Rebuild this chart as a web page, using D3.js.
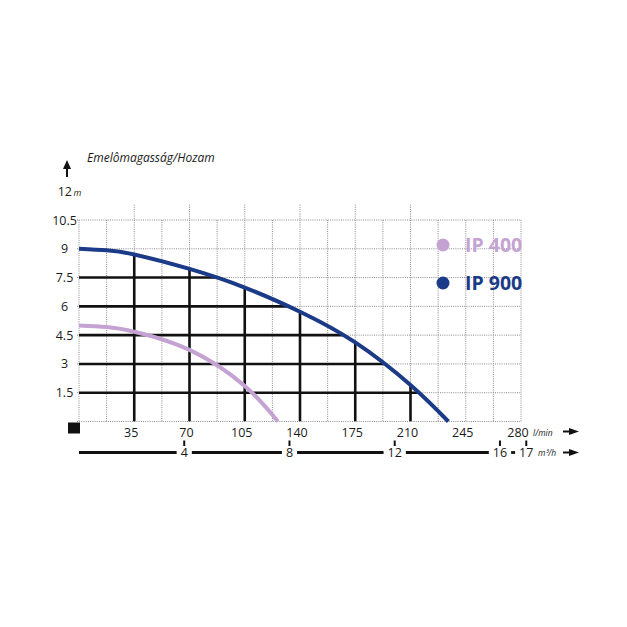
<!DOCTYPE html>
<html>
<head>
<meta charset="utf-8">
<script src="https://cdn.jsdelivr.net/npm/d3@7"></script>
<style>
  body { margin: 0; background: #fff; }
  text { font-family: "Open Sans", sans-serif; }
</style>
</head>
<body>
<div id="chart"></div>
<script>
// flow in l/min, head in m
const ip900Flow = [0, 17.5, 35, 70, 105, 140, 175, 210, 234];
const ip900Head = [9.0, 8.92, 8.7, 7.95, 6.98, 5.72, 4.12, 1.9, 0];
const ip400Flow = [0, 17.5, 35, 70, 105, 126];
const ip400Head = [5.0, 4.92, 4.68, 3.73, 1.85, 0];

const flowTicks = [35, 70, 105, 140, 175, 210, 245, 280];
const headTicks = [1.5, 3, 4.5, 6, 7.5, 9, 10.5, 12];
const m3hTicks = [4, 8, 12, 16, 17];

const seriesNames = ['IP 400', 'IP 900'];
const seriesColors = ['#c4a3d3', '#1b3a87'];

const width = 627, height = 627;

const svg = d3.select('#chart').append('svg')
  .attr('width', width)
  .attr('height', height);

const x = d3.scaleLinear().domain([0, 280]).range([79, 521]);
const y = d3.scaleLinear().domain([0, 10.5]).range([421.5, 220]);

const ip900 = ip900Flow.map((f, i) => ({ f, h: ip900Head[i] }));
const ip400 = ip400Flow.map((f, i) => ({ f, h: ip400Head[i] }));

// dotted background grid
const grid = svg.append('g').attr('stroke', '#8a8a8a').attr('stroke-width', 1)
  .attr('stroke-dasharray', '1,1.2');

grid.selectAll('line.v')
  .data(d3.range(0, 280.1, 17.5))
  .enter().append('line')
  .attr('x1', d => x(d)).attr('x2', d => x(d))
  .attr('y1', d => (d % 35 === 0 && d > 0 && d < 245) ? y(11.3) : y(10.5))
  .attr('y2', y(0));

grid.selectAll('line.h')
  .data(d3.range(0, 10.6, 1.5))
  .enter().append('line')
  .attr('x1', x(0) - 2).attr('x2', x(280))
  .attr('y1', d => y(d)).attr('y2', d => y(d));

// solid black grid under the IP 900 curve
const curve = d3.curveNatural;
const area = d3.area().curve(curve)
  .x(d => x(d.f)).y0(y(0)).y1(d => y(d.h));

svg.append('clipPath').attr('id', 'under900')
  .append('path').attr('d', area(ip900));

const solid = svg.append('g').attr('clip-path', 'url(#under900)')
  .attr('stroke', '#111').attr('stroke-width', 2.6);

solid.selectAll('line.v')
  .data(flowTicks.filter(d => d <= 210))
  .enter().append('line')
  .attr('x1', d => x(d)).attr('x2', d => x(d))
  .attr('y1', y(0)).attr('y2', y(10.5));

solid.selectAll('line.h')
  .data(headTicks.filter(d => d <= 9))
  .enter().append('line')
  .attr('x1', x(0)).attr('x2', x(280))
  .attr('y1', d => y(d)).attr('y2', d => y(d));

// curves
const line = d3.line().curve(curve)
  .x(d => x(d.f)).y(d => y(d.h));

[ip400, ip900].forEach((data, i) => {
  svg.append('path')
    .attr('d', line(data))
    .attr('fill', 'none')
    .attr('stroke', seriesColors[i])
    .attr('stroke-width', 4);
});

// y axis labels
svg.selectAll('text.ylab')
  .data(headTicks)
  .enter().append('text')
  .attr('x', 64.5)
  .attr('y', d => y(d) + 4.5)
  .attr('text-anchor', 'middle')
  .attr('font-size', 12.5)
  .attr('fill', '#1a1a1a')
  .text(d => d === 12 ? '' : d);

svg.append('text')
  .attr('x', 72).attr('y', y(12) + 4.5)
  .attr('text-anchor', 'end')
  .attr('font-size', 12.5).attr('fill', '#1a1a1a')
  .text('12');
svg.append('text')
  .attr('x', 73.5).attr('y', y(12) + 4.5)
  .attr('font-size', 9).attr('font-style', 'italic').attr('fill', '#1a1a1a')
  .text('m');

// up arrow and title
svg.append('line')
  .attr('x1', 67).attr('x2', 67).attr('y1', 177).attr('y2', 166)
  .attr('stroke', '#111').attr('stroke-width', 2);
svg.append('path')
  .attr('d', 'M63,169 L67,160 L71,169 Z').attr('fill', '#111');

svg.append('text')
  .attr('x', 87).attr('y', 162)
  .attr('font-size', 12).attr('font-style', 'italic').attr('fill', '#1a1a1a')
  .text('Emelômagasság/Hozam');

// origin square
svg.append('rect')
  .attr('x', 68).attr('y', y(0) + 1).attr('width', 12).attr('height', 11)
  .attr('fill', '#111');

// flow axis (l/min)
svg.selectAll('text.xlab')
  .data(flowTicks)
  .enter().append('text')
  .attr('x', d => x(d) - 3)
  .attr('y', y(0) + 15)
  .attr('text-anchor', 'middle')
  .attr('font-size', 12.5)
  .attr('fill', '#1a1a1a')
  .text(d => d);

svg.append('text')
  .attr('x', 533).attr('y', y(0) + 14)
  .attr('font-size', 8.5).attr('font-style', 'italic').attr('fill', '#1a1a1a')
  .text('l/min');

function arrow(yPos) {
  svg.append('line')
    .attr('x1', 563).attr('x2', 571).attr('y1', yPos).attr('y2', yPos)
    .attr('stroke', '#111').attr('stroke-width', 2);
  svg.append('path')
    .attr('d', `M569,${yPos - 3.5} L579,${yPos} L569,${yPos + 3.5} Z`)
    .attr('fill', '#111');
}
arrow(431.5);

// m3/h axis
const yM = 452.5;
const m3x = d => x(d * 1000 / 60);
const mLabels = svg.selectAll('text.mlab')
  .data(m3hTicks)
  .enter().append('text')
  .attr('x', d => m3x(d))
  .attr('y', yM + 4.5)
  .attr('text-anchor', 'middle')
  .attr('font-size', 12.5)
  .attr('fill', '#1a1a1a')
  .text(d => d);

svg.selectAll('line.mtick')
  .data(m3hTicks)
  .enter().append('line')
  .attr('x1', d => m3x(d)).attr('x2', d => m3x(d))
  .attr('y1', yM - 12).attr('y2', yM - 6.5)
  .attr('stroke', '#111').attr('stroke-width', 2);

const halfW = mLabels.nodes().map(n => n.getComputedTextLength() / 2 + 4);
const segs = [];
let start = x(0);
m3hTicks.forEach((d, i) => {
  segs.push([start, m3x(d) - halfW[i]]);
  start = m3x(d) + halfW[i];
});
svg.selectAll('line.mseg')
  .data(segs.filter(s => s[1] > s[0]))
  .enter().append('line')
  .attr('x1', d => d[0]).attr('x2', d => d[1])
  .attr('y1', yM).attr('y2', yM)
  .attr('stroke', '#111').attr('stroke-width', 2.8);

svg.append('text')
  .attr('x', 538).attr('y', yM + 3.5)
  .attr('font-size', 8.5).attr('font-style', 'italic').attr('fill', '#1a1a1a')
  .text('m³/h');
arrow(yM);

// legend
const legend = svg.selectAll('g.legend')
  .data(seriesNames)
  .enter().append('g')
  .attr('transform', (d, i) => `translate(443, ${245 + i * 38})`);
legend.append('circle')
  .attr('r', 6.5)
  .attr('fill', (d, i) => seriesColors[i]);
legend.append('text')
  .attr('x', 22).attr('y', 7)
  .attr('font-size', 19.5).attr('font-weight', 'bold')
  .attr('fill', (d, i) => seriesColors[i])
  .text(d => d);
</script>
</body>
</html>
